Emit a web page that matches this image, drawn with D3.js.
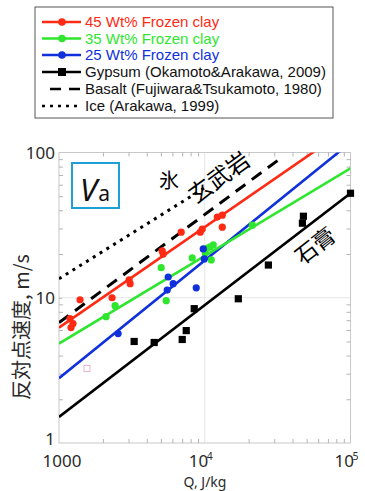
<!DOCTYPE html>
<html>
<head>
<meta charset="utf-8">
<script src="https://cdn.jsdelivr.net/npm/d3@7"></script>
<style>
  body { margin: 0; background: #fff; }
  svg { display: block; }
</style>
</head>
<body>
<div id="chart"></div>
<script>
// measured points, [Q J/kg, V m/s]
const clay45 = [[1190, 7.18], [1248, 6.64], [1209, 6.23], [1394, 9.69], [2313, 10.0], [3028, 13.3], [3076, 12.5],
  [5105, 21.0], [5187, 20.0], [6895, 28.3], [9314, 28.3], [9612, 29.7], [12190, 35.9], [13192, 37.0], [13192, 30.6]];
const clay35 = [[2104, 7.41], [2426, 8.82], [5024, 16.1], [5438, 9.54], [8206, 18.8], [10080, 20.3], [10404, 22.0],
  [10909, 22.4], [11440, 23.1], [11083, 18.2], [21211, 31.6]];
const clay25 = [[2544, 5.67], [5612, 13.9], [6074, 12.5], [5525, 11.3], [8741, 11.7], [9765, 21.7], [9921, 18.5]];
const gypsum = [[3278, 5.00], [4498, 4.92], [7005, 5.16], [7464, 5.94], [8471, 8.41], [16993, 9.84], [27322, 16.8],
  [46789, 32.6], [47534, 36.4], [100000, 52.4]];
const stray = [[1557, 3.26]];

// fitted / reference lines (end points)
const fit45 = [[1000, 6.23], [100000, 151]];
const fit35 = [[1000, 4.84], [100000, 77.8]];
const fit25 = [[1000, 2.79], [100000, 117]];
const fitGypsum = [[1000, 1.51], [100000, 52.4]];
const basalt = [[1000, 6.74], [34000, 93]];
const ice = [[1000, 13.5], [10500, 59]];

const legendLabels = ["45 Wt% Frozen clay", "35 Wt% Frozen clay", "25 Wt% Frozen clay",
  "Gypsum (Okamoto&Arakawa, 2009)", "Basalt (Fujiwara&Tsukamoto, 1980)", "Ice (Arakawa, 1999)"];
const xMinor = [2000, 3000, 4000, 5000, 6000, 7000, 8000, 9000, 20000, 30000, 40000, 50000, 60000, 70000, 80000, 90000];
const yMinor = [2, 3, 4, 5, 6, 7, 8, 9, 20, 30, 40, 50, 60, 70, 80, 90];
const yLabels = [1, 10, 100];

const RED = "#ff2a14", GREEN = "#2ee62e", BLUE = "#1030dc";

const width = 365, height = 491;
const svg = d3.select("#chart").append("svg")
  .attr("width", width).attr("height", height);

const x = d3.scaleLog().domain([1000, 100000]).range([59, 350.5]);
const y = d3.scaleLog().domain([1, 100]).range([443, 152.5]);
const pL = x.range()[0], pR = x.range()[1], pT = y.range()[1], pB = y.range()[0];

svg.append("clipPath").attr("id", "plotclip")
  .append("rect").attr("x", pL).attr("y", pT).attr("width", pR - pL).attr("height", pB - pT);

// grid lines at 10^4 and 10
svg.append("line").attr("x1", x(10000)).attr("x2", x(10000)).attr("y1", pT).attr("y2", pB)
  .attr("stroke", "#e6e6e6").attr("stroke-width", 1);
svg.append("line").attr("x1", pL).attr("x2", pR).attr("y1", y(10)).attr("y2", y(10))
  .attr("stroke", "#e6e6e6").attr("stroke-width", 1);

// frame
svg.append("rect").attr("x", pL).attr("y", pT).attr("width", pR - pL).attr("height", pB - pT)
  .attr("fill", "none").attr("stroke", "#c8c8c8").attr("stroke-width", 1);

// inward minor ticks on all four sides
function ticks(axis, tr) {
  const g = svg.append("g").attr("transform", tr).call(axis);
  g.select(".domain").remove();
  g.selectAll("line").attr("stroke", "#b4b4b4");
}
ticks(d3.axisBottom(x).tickValues(xMinor).tickSize(-4).tickFormat(""), `translate(0,${pB})`);
ticks(d3.axisTop(x).tickValues(xMinor).tickSize(-4).tickFormat(""), `translate(0,${pT})`);
ticks(d3.axisLeft(y).tickValues(yMinor).tickSize(-4).tickFormat(""), `translate(${pL},0)`);
ticks(d3.axisRight(y).tickValues(yMinor).tickSize(-4).tickFormat(""), `translate(${pR},0)`);
ticks(d3.axisLeft(y).tickValues([10]).tickSize(-3).tickFormat(""), `translate(${pL},0)`);

// tick labels
const tickFont = "'Noto Sans', 'DejaVu Sans', sans-serif";
svg.selectAll(".ylab").data(yLabels).enter().append("text")
  .attr("x", pL - 4).attr("y", d => y(d) - (d === 1 ? 4 : 0)).attr("dy", "0.36em")
  .attr("text-anchor", "end").attr("font-family", tickFont).attr("font-size", 17).attr("fill", "#2a2a2a")
  .text(d => d);

svg.append("text").attr("x", x(1000) + 3).attr("y", 467).attr("text-anchor", "middle")
  .attr("font-family", tickFont).attr("font-size", 17).attr("fill", "#2a2a2a").text("1000");
[[10000, "4"], [100000, "5"]].forEach(([v, e]) => {
  const t = svg.append("text").attr("x", x(v) - 4).attr("y", 467).attr("text-anchor", "middle")
    .attr("font-family", tickFont).attr("font-size", 17).attr("fill", "#2a2a2a");
  t.append("tspan").text("10");
  t.append("tspan").attr("font-size", 10.5).attr("dx", -1.5).attr("dy", -7).text(e);
});

// axis titles
svg.append("text").attr("x", 205).attr("y", 487).attr("text-anchor", "middle")
  .attr("font-family", tickFont).attr("font-size", 14).attr("fill", "#2a2a2a").text("Q, J/kg");
svg.append("text").attr("transform", "translate(29,327) rotate(-90)").attr("text-anchor", "middle")
  .attr("font-family", "'Noto Sans CJK JP', sans-serif").attr("font-size", 20).attr("fill", "#2a2a2a")
  .text("反対点速度, m/s");

// lines
const line = d3.line().x(d => x(d[0])).y(d => y(d[1]));
const lines = svg.append("g").attr("clip-path", "url(#plotclip)");
lines.append("path").datum(ice).attr("d", line).attr("fill", "none").attr("stroke", "#000")
  .attr("stroke-width", 3).attr("stroke-dasharray", "3,5");
lines.append("path").datum(basalt).attr("d", line).attr("fill", "none").attr("stroke", "#000")
  .attr("stroke-width", 3).attr("stroke-dasharray", "12,8");
[[fitGypsum, "#000"], [fit25, BLUE], [fit35, GREEN], [fit45, RED]].forEach(([d, c]) => {
  lines.append("path").datum(d).attr("d", line).attr("fill", "none").attr("stroke", c).attr("stroke-width", 2.6);
});

// points
svg.selectAll(".gyp").data(gypsum).enter().append("rect")
  .attr("x", d => x(d[0]) - 3.6).attr("y", d => y(d[1]) - 3.6).attr("width", 7.2).attr("height", 7.2).attr("fill", "#000");
svg.selectAll(".stray").data(stray).enter().append("rect")
  .attr("x", d => x(d[0]) - 3).attr("y", d => y(d[1]) - 3).attr("width", 6).attr("height", 6)
  .attr("fill", "none").attr("stroke", "#e8b4cc").attr("stroke-width", 1);
[[clay35, GREEN], [clay25, BLUE], [clay45, RED]].forEach(([d, c]) => {
  svg.append("g").selectAll("circle").data(d).enter().append("circle")
    .attr("cx", p => x(p[0])).attr("cy", p => y(p[1])).attr("r", 3.6).attr("fill", c);
});

// in-plot labels
const cjk = "'Noto Sans CJK JP', sans-serif";
svg.append("text").attr("transform", "translate(169,188)").attr("text-anchor", "middle")
  .attr("font-family", cjk).attr("font-size", 20).text("氷");
svg.append("text").attr("transform", "translate(224,184) rotate(-36)").attr("text-anchor", "middle")
  .attr("font-family", cjk).attr("font-size", 23).text("玄武岩");
svg.append("text").attr("transform", "translate(320,252) rotate(-38)").attr("text-anchor", "middle")
  .attr("font-family", cjk).attr("font-size", 22).text("石膏");

// Va box
svg.append("rect").attr("x", 72).attr("y", 163).attr("width", 47).attr("height", 45)
  .attr("fill", "#fff").attr("stroke", "#1ea0d6").attr("stroke-width", 2);
const va = svg.append("text").attr("x", 80).attr("y", 201).attr("font-family", tickFont).attr("fill", "#111");
va.append("tspan").attr("font-style", "italic").attr("font-size", 31).text("V");
va.append("tspan").attr("font-size", 21).attr("dx", 1).text("a");

// legend
svg.append("rect").attr("x", 35).attr("y", 7).attr("width", 298).attr("height", 111)
  .attr("fill", "#fff").attr("stroke", "#555").attr("stroke-width", 1);
const legendRows = [22, 38.5, 55, 72, 89, 106];
const legendColors = [RED, GREEN, BLUE, "#000", "#000", "#000"];
const lg = svg.append("g");
legendLabels.forEach((lab, i) => {
  const ly = legendRows[i];
  const ln = lg.append("line").attr("x1", 42).attr("x2", 81).attr("y1", ly).attr("y2", ly)
    .attr("stroke-width", 2.6).attr("stroke", legendColors[i]);
  if (i < 3) lg.append("circle").attr("cx", 62).attr("cy", ly).attr("r", 3.8).attr("fill", legendColors[i]);
  if (i === 3) lg.append("rect").attr("x", 58).attr("y", ly - 4).attr("width", 8).attr("height", 8).attr("fill", "#000");
  if (i === 4) ln.attr("x1", 50).attr("stroke-dasharray", "11,8");
  if (i === 5) ln.attr("stroke-dasharray", "3,5");
  lg.append("text").attr("x", 85).attr("y", ly).attr("dy", "0.36em")
    .attr("font-family", "'Liberation Sans', Arial, sans-serif").attr("font-size", 15)
    .attr("fill", i < 3 ? legendColors[i] : "#111").text(lab);
});
</script>
</body>
</html>
